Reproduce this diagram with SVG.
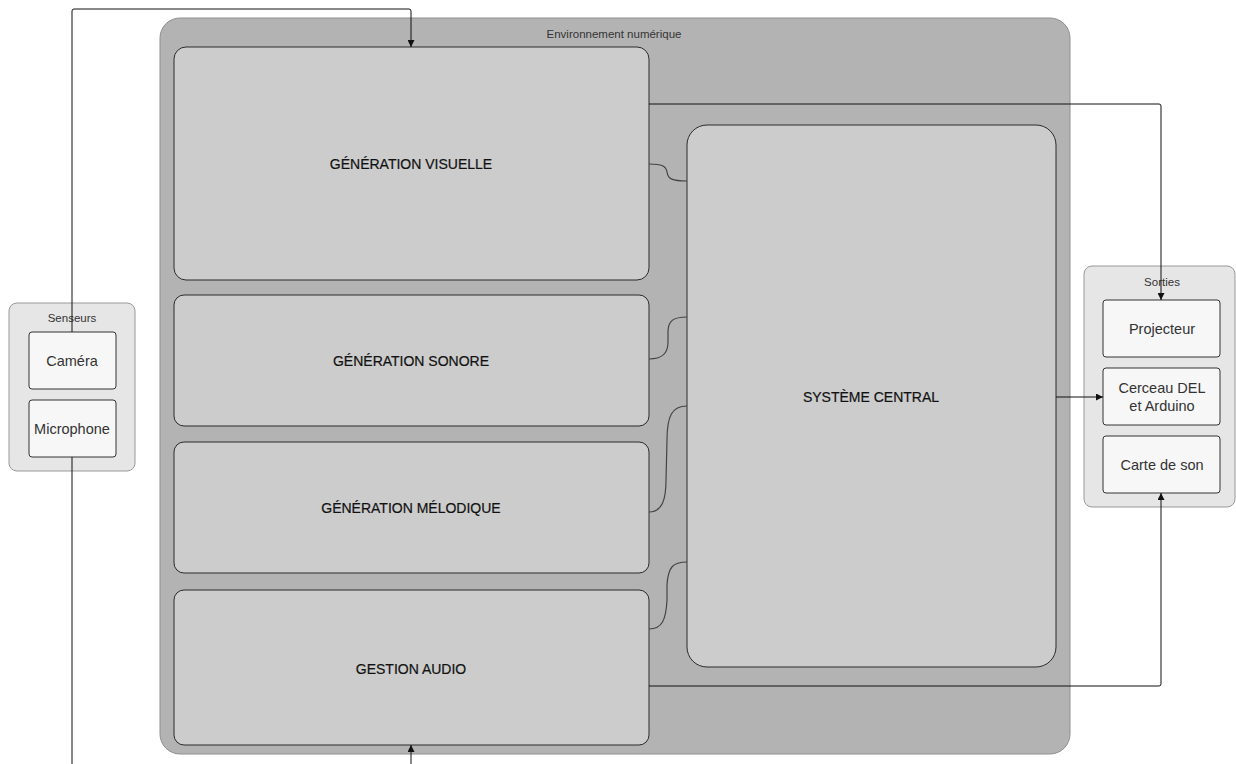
<svg xmlns="http://www.w3.org/2000/svg" width="1236" height="764" viewBox="0 0 1236 764">
  <style>
    .env { fill: #b3b3b3; stroke: #8f8f8f; stroke-width: 1; }
    .block { fill: #cccccc; stroke: #2b2b2b; stroke-width: 1; }
    .group { fill: #e6e6e6; stroke: #999999; stroke-width: 1; }
    .device { fill: #f7f7f7; stroke: #333333; stroke-width: 1; }
    .title { font-family: "Liberation Sans", Arial, sans-serif; font-size: 11.5px; fill: #333333; text-anchor: middle; }
    .main { font-family: "Liberation Sans", Arial, sans-serif; font-size: 14px; fill: #111111; stroke: #111111; stroke-width: 0.2; text-anchor: middle; }
    .dev { font-family: "Liberation Sans", Arial, sans-serif; font-size: 14.5px; fill: #333333; text-anchor: middle; }
    .wire { fill: none; stroke: #111111; stroke-width: 1; }
    .link { fill: none; stroke: #444444; stroke-width: 1.2; }
  </style>
  <defs>
    <marker id="arrow" viewBox="0 0 10 10" refX="10" refY="5" markerWidth="7" markerHeight="7" markerUnits="userSpaceOnUse" orient="auto">
      <path d="M0,0 L10,5 L0,10 z" fill="#111111"/>
    </marker>
  </defs>

  <rect width="1236" height="764" fill="#ffffff"/>

  <!-- Digital environment container -->
  <g id="environnement">
    <rect class="env" x="160" y="18" width="910" height="736" rx="20" ry="20"/>
    <text class="title" x="614" y="38">Environnement numérique</text>
  </g>

  <g id="generation-visuelle">
    <rect class="block" x="174" y="47" width="475" height="233" rx="12" ry="12"/>
    <text class="main" x="411" y="169">GÉNÉRATION VISUELLE</text>
  </g>

  <g id="generation-sonore">
    <rect class="block" x="174" y="295" width="475" height="131" rx="10" ry="10"/>
    <text class="main" x="411" y="366">GÉNÉRATION SONORE</text>
  </g>

  <g id="generation-melodique">
    <rect class="block" x="174" y="442" width="475" height="131" rx="10" ry="10"/>
    <text class="main" x="411" y="513">GÉNÉRATION MÉLODIQUE</text>
  </g>

  <g id="gestion-audio">
    <rect class="block" x="174" y="590" width="475" height="155" rx="10" ry="10"/>
    <text class="main" x="411" y="674">GESTION AUDIO</text>
  </g>

  <g id="systeme-central">
    <rect class="block" x="687" y="125" width="369" height="542" rx="20" ry="20"/>
    <text class="main" x="871" y="402">SYSTÈME CENTRAL</text>
  </g>

  <!-- Sensors -->
  <g id="senseurs">
    <rect class="group" x="9" y="303" width="126" height="168" rx="8" ry="8"/>
    <text class="title" x="72" y="322">Senseurs</text>
  </g>
  <g id="camera">
    <rect class="device" x="29" y="332" width="87" height="57" rx="3" ry="3"/>
    <text class="dev" x="72" y="366">Caméra</text>
  </g>
  <g id="microphone">
    <rect class="device" x="29" y="400" width="87" height="57" rx="3" ry="3"/>
    <text class="dev" x="72" y="434">Microphone</text>
  </g>

  <!-- Outputs -->
  <g id="sorties">
    <rect class="group" x="1084" y="266" width="151" height="241" rx="8" ry="8"/>
    <text class="title" x="1162" y="286">Sorties</text>
  </g>
  <g id="projecteur">
    <rect class="device" x="1103" y="300" width="117" height="57" rx="3" ry="3"/>
    <text class="dev" x="1162" y="334">Projecteur</text>
  </g>
  <g id="cerceau">
    <rect class="device" x="1103" y="368" width="117" height="57" rx="3" ry="3"/>
    <text class="dev" x="1162" y="393">Cerceau DEL</text>
    <text class="dev" x="1162" y="411">et Arduino</text>
  </g>
  <g id="carte-son">
    <rect class="device" x="1103" y="436" width="117" height="57" rx="3" ry="3"/>
    <text class="dev" x="1162" y="470">Carte de son</text>
  </g>

  <!-- Connectors -->
  <g id="connecteurs">
    <!-- camera to visual generation -->
    <path class="wire" d="M72,332 L72,11 Q72,9 74,9 L409,9 Q411,9 411,11 L411,47" marker-end="url(#arrow)"/>
    <!-- microphone to audio management, routed below the page -->
    <path class="wire" d="M72,457 L72,780 L411,780 L411,745" marker-end="url(#arrow)"/>
    <!-- visual generation to projector -->
    <path class="wire" d="M649,104 L1159,104 Q1161,104 1161,106 L1161,300" marker-end="url(#arrow)"/>
    <!-- audio management to sound card -->
    <path class="wire" d="M649,686 L1159,686 Q1161,686 1161,684 L1161,493" marker-end="url(#arrow)"/>
    <!-- central system to LED hoop -->
    <path class="wire" d="M1056,397 L1103,397" marker-end="url(#arrow)"/>

    <!-- links between generators and the central system -->
    <path class="link" d="M649,164 C662,164 666,166 667,172 C668,179 672,181 687,181"/>
    <path class="link" d="M649,359 C662,359 668,354 668,342 L668,332 C668,321 673,317 687,317"/>
    <path class="link" d="M649,512 C662,512 666,500 666,480 L667,440 C667,416 672,406 687,406"/>
    <path class="link" d="M649,629 C662,629 666,620 667,600 L667,585 C668,567 673,562 687,562"/>
  </g>
</svg>
